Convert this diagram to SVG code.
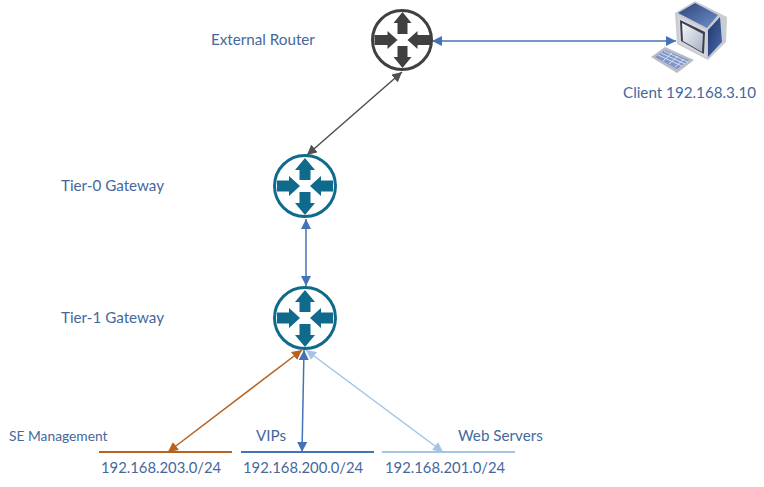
<svg xmlns="http://www.w3.org/2000/svg" width="764" height="487" viewBox="0 0 764 487">
<style>
text{font-family:Lato,"Liberation Sans",sans-serif;font-size:15.2px;fill:#44689e}
.ip{font-size:14.8px}
.ring{fill:#fff;stroke-width:3}
.c{fill:none;stroke-width:1.5}
.bus{stroke-width:2}
</style>
<defs>
<g id="arrows">
<path d="M0-28L-9-17H-5V-6H5V-17H9Z"/>
<path d="M0 28L-9 17H-5V6H5V17H9Z"/>
<path d="M-5 0L-15-9V-5H-28V5H-15V9Z"/>
<path d="M5 0L15-9V-5H28V5H15V9Z"/>
</g>
<g id="arrows-t">
<path d="M0-28L-10-16H-5.500V-6H5.500V-16H10Z"/>
<path d="M0 29L-10 17H-5.500V6H5.500V17H10Z"/>
<path d="M-5 0L-16-10V-5.500H-28V5.500H-16V10Z"/>
<path d="M5 0L16-10V-5.500H28V5.500H16V10Z"/>
</g>
<marker id="mB" markerUnits="userSpaceOnUse" markerWidth="12" markerHeight="10" refX="10" refY="5" orient="auto-start-reverse"><path d="M0 0L10 5L0 10Z" fill="#4472b8"/></marker>
<marker id="mG" markerUnits="userSpaceOnUse" markerWidth="12" markerHeight="10" refX="10" refY="5" orient="auto-start-reverse"><path d="M0 0L10 5L0 10Z" fill="#505050"/></marker>
<marker id="mO" markerUnits="userSpaceOnUse" markerWidth="12" markerHeight="10" refX="10" refY="5" orient="auto-start-reverse"><path d="M0 0L10 5L0 10Z" fill="#b9611f"/></marker>
<marker id="mL" markerUnits="userSpaceOnUse" markerWidth="12" markerHeight="10" refX="10" refY="5" orient="auto-start-reverse"><path d="M0 0L10 5L0 10Z" fill="#a3c4e3"/></marker>
<linearGradient id="scr" x1="0" y1="0" x2="1" y2="1"><stop offset="0" stop-color="#f6f6f8"/><stop offset="1" stop-color="#a9b0c6"/></linearGradient>
<linearGradient id="side" x1="0" y1="0" x2="1" y2="1"><stop offset="0" stop-color="#1f3568"/><stop offset="1" stop-color="#4a6cb0"/></linearGradient>
<linearGradient id="top" x1="0" y1="0" x2="1" y2="1"><stop offset="0" stop-color="#2c4478"/><stop offset="1" stop-color="#6f8fca"/></linearGradient>
</defs>
<g id="connectors">
<line class="c" x1="432" y1="41" x2="676" y2="41" stroke="#4472b8" marker-start="url(#mB)" marker-end="url(#mB)"/>
<line class="c" x1="402" y1="72" x2="307" y2="155" stroke="#505050" marker-start="url(#mG)" marker-end="url(#mG)"/>
<line class="c" x1="306" y1="219" x2="306" y2="286" stroke="#4472b8" marker-start="url(#mB)" marker-end="url(#mB)"/>
<line class="c" x1="302" y1="350" x2="168" y2="452" stroke="#b9611f" marker-start="url(#mO)" marker-end="url(#mO)"/>
<line class="c" x1="304" y1="350" x2="302" y2="452" stroke="#4472b8" marker-start="url(#mB)" marker-end="url(#mB)"/>
<line class="c" x1="306" y1="350" x2="443" y2="452" stroke="#a3c4e3" marker-start="url(#mL)" marker-end="url(#mL)"/>
</g>
<g id="external-router">
<circle class="ring" cx="402" cy="40" r="29.500" stroke="#404040"/>
<use href="#arrows" x="402.500" y="40" fill="#404040"/>
<text x="211" y="45">External Router</text>
</g>
<g id="tier-0-gateway">
<circle class="ring" cx="305" cy="186" r="30.500" stroke="#0f6a8b"/>
<use href="#arrows-t" x="305" y="186" fill="#0f6a8b"/>
<text x="61" y="191">Tier-0 Gateway</text>
</g>
<g id="tier-1-gateway">
<circle class="ring" cx="305" cy="318" r="30.500" stroke="#0f6a8b"/>
<use href="#arrows-t" x="305" y="318" fill="#0f6a8b"/>
<text x="61" y="323">Tier-1 Gateway</text>
</g>
<g id="client">
<path d="M675 13L695 1L727 17L726 42L708 60L677 44Z" fill="#c9ccd2"/>
<path d="M678 13L695 3L718 15L707 28Z" fill="url(#top)"/>
<path d="M708 30L720 17L722 42L708 57Z" fill="url(#side)"/>
<path d="M678 16L706 30L706 57L679 43Z" fill="#d5d7dc"/>
<path d="M680 20L705 32L704 54L681 41Z" fill="#3a3f4c"/>
<path d="M682 23L703 34L702 52L683 41Z" fill="url(#scr)"/>
<path d="M651 57L665 47L694 60L677 73Z" fill="#b9bcc4"/>
<path d="M655 57L665 50L689 60L677 69Z" fill="#7f97c8"/>
<path d="M658 55L682 66M661 53L685 64M664 51L688 62M663 61L672 53M669 64L678 56M675 67L684 59" stroke="#d6def0" stroke-width="1" fill="none"/>
<text x="623" y="98">Client 192.168.3.10</text>
</g>
<g id="se-management">
<line class="bus" x1="99" y1="452" x2="232" y2="452" stroke="#b9611f"/>
<text x="9" y="441" style="font-size:13.8px">SE Management</text>
<text class="ip" x="101" y="473">192.168.203.0/24</text>
</g>
<g id="vips">
<line class="bus" x1="241" y1="452" x2="374" y2="452" stroke="#4472b8"/>
<text x="256" y="441">VIPs</text>
<text class="ip" x="243" y="473">192.168.200.0/24</text>
</g>
<g id="web-servers">
<line class="bus" x1="382" y1="452" x2="515" y2="452" stroke="#a3c4e3"/>
<text x="458" y="441">Web Servers</text>
<text class="ip" x="385" y="473">192.168.201.0/24</text>
</g>
</svg>
